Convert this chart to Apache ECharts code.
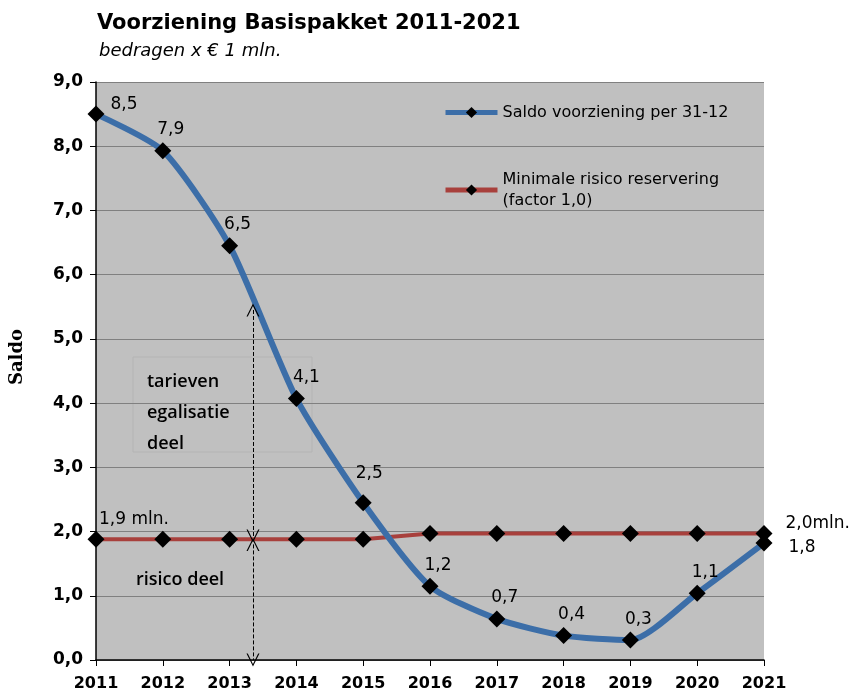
<!DOCTYPE html>
<html>
<head>
<meta charset="utf-8">
<script src="https://cdn.jsdelivr.net/npm/echarts@6/dist/echarts.min.js"></script>
<style>html,body{margin:0;padding:0;background:#fff}#c{width:861px;height:696px}</style>
</head>
<body>
<div id="c"></div>
<script>
const years = [2011,2012,2013,2014,2015,2016,2017,2018,2019,2020,2021];
const saldo = [8.5,7.93,6.45,4.07,2.45,1.15,0.64,0.38,0.31,1.04,1.82];
const saldoLabels = ['8,5','7,9','6,5','4,1','2,5','1,2','0,7','0,4','0,3','1,1','1,8'];
const risico = [1.88,1.88,1.88,1.88,1.88,1.97,1.97,1.97,1.97,1.97,1.97];
const risicoLabels = ['1,9 mln.','','','','','','','','','','2,0mln.'];
const arrowX = 2013.35;
const upperArrow = [5.45, 1.93];
const lowerArrow = [1.8, 0];

const chev = 'path://M0,10 L5,0 L10,10 L9,10 L5,2 L1,10 Z';
const labelFont = {fontFamily:'DejaVu Sans', fontSize:17, color:'#000'};

const chart = echarts.init(document.getElementById('c'));
const sData = years.map((y,i)=>{
  const d = {value:[y, saldo[i]]};
  if (i===0) d.label = {position:'right', offset:[2,-10]};
  if (i===years.length-1) d.label = {position:'right', offset:[12,4]};
  if (i===4) d.label = {offset:[6,-8]};
  if (i===3) d.label = {offset:[10,0]};
  return d;
});
chart.setOption({
  animation:false,
  backgroundColor:'#fff',
  title:[
    {text:'Voorziening Basispakket 2011-2021', left:92, top:8,
     textStyle:{fontFamily:'DejaVu Sans', fontSize:21, fontWeight:'bold', color:'#000'}},
    {text:'bedragen x € 1 mln.', left:94, top:37,
     textStyle:{fontFamily:'DejaVu Sans', fontSize:18, fontStyle:'italic', fontWeight:'normal', color:'#000'}}
  ],
  grid:{left:95, right:97, top:82, bottom:36, show:true, backgroundColor:'#c0c0c0', borderWidth:0},
  legend:{
    orient:'vertical', left:438, top:97, itemGap:46, itemWidth:52, itemHeight:14,
    itemStyle:{color:'#000'},
    lineStyle:{width:5},
    textStyle:{fontFamily:'DejaVu Sans', fontSize:16, color:'#000', lineHeight:21},
    formatter: n => n.replace(' (factor', '\n(factor')
  },
  xAxis:{
    type:'value', min:2011, max:2021, interval:1,
    axisLine:{show:true, onZero:false, lineStyle:{color:'#000', width:1.5}},
    axisTick:{show:true, length:6, lineStyle:{color:'#000'}},
    axisLabel:{formatter: v => String(v), fontFamily:'DejaVu Sans', fontSize:16, fontWeight:'bold', color:'#000', margin:16},
    splitLine:{show:false}
  },
  yAxis:{
    type:'value', min:0, max:9, interval:1,
    name:'Saldo', nameLocation:'middle', nameGap:70, nameRotate:90,
    nameTextStyle:{fontFamily:'DejaVu Serif', fontSize:18, fontWeight:'bold', color:'#000', padding:[0,0,0,28]},
    axisLine:{show:true, lineStyle:{color:'#000', width:1.5}},
    axisTick:{show:true, length:6, lineStyle:{color:'#000'}},
    axisLabel:{formatter: v => v.toFixed(1).replace('.', ','), fontFamily:'DejaVu Sans', fontSize:17, fontWeight:'bold', color:'#000', margin:13},
    splitLine:{show:true, lineStyle:{color:'#808080', width:1}}
  },
  graphic:[
    {type:'rect', shape:{x:133, y:357, width:179, height:95}, style:{fill:'none', stroke:'#b4b4b4', lineWidth:1}},
    {type:'text', left:147, top:366, style:{text:'tarieven\negalisatie\ndeel', fontFamily:'Open Sans', fontSize:18, fontWeight:600, lineHeight:31, fill:'#000'}},
    {type:'text', left:136, top:571, style:{text:'risico deel', fontFamily:'Open Sans', fontSize:18, fontWeight:600, fill:'#000'}}
  ],
  series:[
    {
      name:'Saldo voorziening per 31-12', type:'line', smooth:0.22, z:3,
      data: sData,
      symbol:'diamond', symbolSize:17,
      lineStyle:{color:'#3c6ea8', width:6},
      itemStyle:{color:'#000'},
      label:{show:true, position:'top', distance:4, offset:[8,0], ...labelFont,
        formatter: p => saldoLabels[p.dataIndex]},
      emphasis:{disabled:true}
    },
    {
      name:'Minimale risico reservering (factor 1,0)', type:'line', z:2,
      data: years.map((y,i)=>{
        const d = {value:[y, risico[i]]};
        if (i===0) d.label = {show:true, position:'top', offset:[38,2]};
        if (i===years.length-1) d.label = {show:true, position:'right', offset:[8,-10]};
        return d;
      }),
      symbol:'diamond', symbolSize:17,
      lineStyle:{color:'#a8403c', width:4},
      itemStyle:{color:'#000'},
      label:{show:false, ...labelFont, formatter: p => risicoLabels[p.dataIndex]},
      emphasis:{disabled:true},
      markLine:{
        silent:true, symbol:[chev, chev], symbolSize:[13,13],
        lineStyle:{type:'dashed', color:'#000', width:1},
        label:{show:false},
        data:[
          [{coord:[arrowX, upperArrow[0]]},{coord:[arrowX, upperArrow[1]]}],
          [{coord:[arrowX, lowerArrow[0]]},{coord:[arrowX, lowerArrow[1]]}]
        ]
      }
    }
  ]
});
</script>
</body>
</html>
